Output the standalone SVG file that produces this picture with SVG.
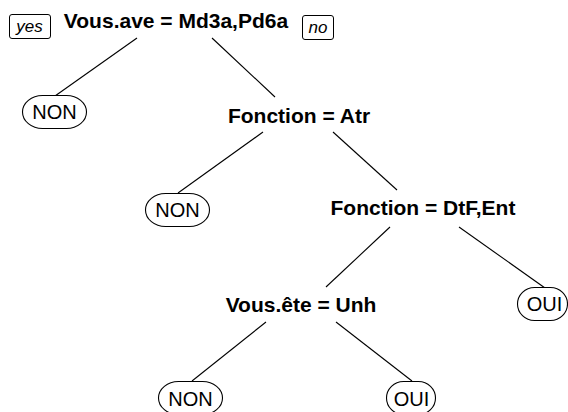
<svg xmlns="http://www.w3.org/2000/svg" width="568" height="412" viewBox="0 0 568 412">
<style>
.split{font-family:"Liberation Sans",Arial,sans-serif;font-weight:bold;font-size:21px;fill:#000;text-anchor:middle}
.leaf{font-family:"Liberation Sans",Arial,sans-serif;font-size:20px;fill:#000;text-anchor:middle}
.lab{font-family:"Liberation Sans",Arial,sans-serif;font-style:italic;font-size:17px;fill:#000;text-anchor:middle}
.lbox{fill:#fff;stroke:#000;stroke-width:1}
.shape{fill:#fff;stroke:#000;stroke-width:1.1}
.edge{stroke:#000;stroke-width:1.1;fill:none}
</style>
<rect width="568" height="412" fill="#fff"/>
<g id="connectors">
<line class="edge" x1="137" y1="38" x2="55" y2="96"/>
<line class="edge" x1="212" y1="38" x2="275" y2="97"/>
<line class="edge" x1="263" y1="132" x2="178" y2="193"/>
<line class="edge" x1="333" y1="132" x2="397" y2="190"/>
<line class="edge" x1="390" y1="227" x2="326" y2="287"/>
<line class="edge" x1="459" y1="227" x2="545" y2="288"/>
<line class="edge" x1="266" y1="322" x2="192" y2="381"/>
<line class="edge" x1="336" y1="322" x2="412" y2="381"/>
</g>
<g id="yes-label">
<rect class="lbox" x="9.5" y="14.5" width="41" height="24" rx="2.5"/>
<text class="lab" x="29.5" y="32">yes</text>
</g>
<g id="no-label">
<rect class="lbox" x="302.5" y="15.5" width="31" height="24" rx="2.5"/>
<text class="lab" x="318" y="32.5">no</text>
</g>
<g id="n1">
<text class="split" x="176" y="28">Vous.ave = Md3a,Pd6a</text>
</g>
<g id="n2">
<rect class="shape" x="22.5" y="95.5" width="64" height="33" rx="20" ry="16.5"/>
<text class="leaf" x="54.5" y="119">NON</text>
</g>
<g id="n3">
<text class="split" x="299" y="123">Fonction = Atr</text>
</g>
<g id="n6">
<rect class="shape" x="145.5" y="193.5" width="64" height="33" rx="20" ry="16.5"/>
<text class="leaf" x="177.5" y="217">NON</text>
</g>
<g id="n7">
<text class="split" x="423" y="215">Fonction = DtF,Ent</text>
</g>
<g id="n14">
<text class="split" x="301" y="312">Vous.ête = Unh</text>
</g>
<g id="n15">
<rect class="shape" x="517.5" y="287.5" width="50" height="33" rx="17" ry="16.5"/>
<text class="leaf" x="544.5" y="311">OUI</text>
</g>
<g id="n28">
<rect class="shape" x="158.5" y="381.5" width="64" height="33" rx="20" ry="16.5"/>
<text class="leaf" x="190.5" y="405.5">NON</text>
</g>
<g id="n29">
<rect class="shape" x="386.5" y="381.5" width="49" height="33" rx="17" ry="16.5"/>
<text class="leaf" x="411.5" y="405.5">OUI</text>
</g>
</svg>
